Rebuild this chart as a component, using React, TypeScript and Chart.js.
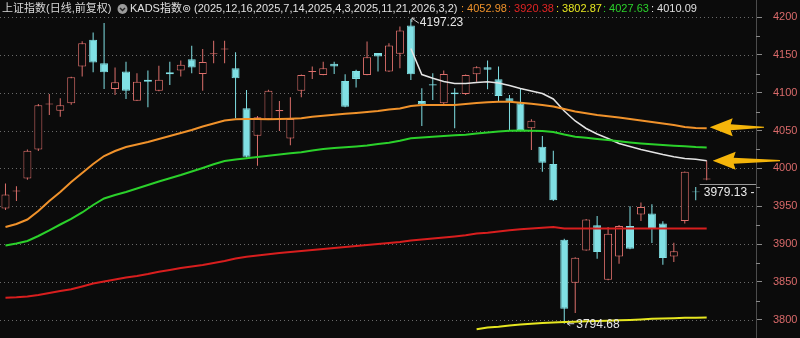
import React, { useEffect, useRef } from 'react';
import { Chart, registerables } from 'chart.js';

Chart.register(...registerables);

// ---------------- data ----------------
const OPEN = [
  3947, 3969.3, 3986.6, 4025, 4084.3, 4076.2, 4086, 4134.5, 4170, 4139,
  4105, 4128, 4089.5, 4117, 4102.7, 4127, 4129.2, 4144.3, 4124.8, 4150.8,
  4157, 4132.4, 4079.4, 4043.1, 4064.8, 4075.6, 4039.6, 4102.7, 4127.2, 4123.5,
  4138.1, 4115.6, 4128.8, 4123.5, 4152.3, 4127.9, 4151.4, 4188.9, 4089, 4111,
  4086, 4100.1, 4098.3, 4124.5, 4133.7, 4117.8, 4092.6, 4086, 4052.9, 4028.5,
  4005.6, 3905.8, 3848.8, 3891.6, 3924.7, 3852.7, 3883.6, 3923.8, 3938.9, 3940.2,
  3927, 3883.6, 3930.4, 3969.5, 3985.2,
];
const HIGH = [
  3980, 3976.4, 4025, 4085, 4098.3, 4092.6, 4121, 4168, 4179.6, 4192,
  4133.2, 4141, 4125.8, 4129.2, 4135.5, 4141, 4142.5, 4162, 4157.6, 4168.6,
  4168.6, 4153.6, 4103.6, 4069.2, 4104, 4089, 4094, 4124, 4134.5, 4141,
  4141, 4124.5, 4130.2, 4167.7, 4152.5, 4165.5, 4187.5, 4197.23, 4105.9, 4125.8,
  4129.2, 4106, 4124, 4135, 4142.5, 4134.5, 4097, 4105, 4064.8, 4042.7,
  4023.2, 3907, 3882.5, 3933, 3937, 3922.5, 3925, 3949.9, 3954.8, 3952.5,
  3930, 3901.8, 3996, 3975.5, 4010.5,
];
const LOW = [
  3945, 3957, 3985, 4023, 4070.5, 4068.3, 4084, 4121.3, 4127, 4105,
  4097, 4091.7, 4089, 4080.7, 4102, 4110.3, 4121.3, 4125.8, 4102.7, 4139,
  4139, 4066.1, 4014.4, 4003.3, 4064, 4049.3, 4030.7, 4094, 4118.2, 4123,
  4124.8, 4080.7, 4106.7, 4123, 4127.9, 4127.5, 4132.4, 4116.9, 4055.9, 4090.4,
  4085, 4052.9, 4097, 4114.6, 4104.6, 4088.1, 4050.6, 4050, 4024.1, 3995.4,
  3957, 3794.68, 3809, 3891, 3880.6, 3852, 3873.9, 3893, 3930.4, 3901.3,
  3872.6, 3876.1, 3927, 3957.8, 3984.4,
];
const CLOSE = [
  3965.4, 3970.7, 4023.2, 4083.4, 4085.7, 4083.4, 4120.5, 4165.5, 4139.8, 4127,
  4113.8, 4102.7, 4114.6, 4114.5, 4117, 4124.5, 4136.8, 4133.2, 4140.4, 4152.2,
  4158.4, 4119.2, 4015.2, 4067.5, 4102.7, 4077, 4065.2, 4123.5, 4128.6, 4132.4,
  4134.5, 4081.5, 4118.2, 4147, 4147.8, 4162.4, 4182.2, 4124.5, 4084.7, 4109.5,
  4124.8, 4098, 4123.5, 4133.7, 4130.2, 4095.7, 4088.1, 4050.6, 4063, 4007.3,
  3957.9, 3814.3, 3881.9, 3932.3, 3889.3, 3913.7, 3923.8, 3893.8, 3949, 3921.1,
  3881.4, 3890.3, 3995.4, 3968.5, 3986.5,
];

const LINE_ORANGE = [
  3922.5, 3926.5, 3932.4, 3943.7, 3956.9, 3968.8, 3982, 3993.9, 4005.8, 4016.3,
  4022.9, 4028.2, 4031.5, 4034.8, 4038.8, 4042.8, 4046.7, 4050.7, 4055.3, 4059.3,
  4063.2, 4064.8, 4065.2, 4065.2, 4064.8, 4065.2, 4065.6, 4066.1, 4068.1, 4069.5,
  4070.8, 4072.1, 4073.2, 4074.5, 4075.8, 4077.8, 4079.1, 4082.4, 4083.7, 4083.7,
  4083.7, 4083.7, 4085, 4086.4, 4087.3, 4088.1, 4088.1, 4086.8, 4085.4, 4083.7,
  4081.7, 4078.4, 4075.1, 4072.8, 4070.5, 4068.8, 4067.2, 4065.2, 4063.2, 4061.3,
  4059.3, 4057.3, 4054.7, 4053.3, 4052.98,
];
const LINE_RED = [
  3829.1, 3829.6, 3830.7, 3832.7, 3835.3, 3837.9, 3840.2, 3843.9, 3847.9, 3850.5,
  3853.1, 3855.8, 3857.8, 3860.4, 3863.4, 3865.7, 3868.3, 3870.3, 3872.3, 3874.9,
  3877.6, 3880.9, 3883.3, 3884.9, 3886.4, 3888.2, 3889.5, 3890.8, 3892.1, 3893.4,
  3894.8, 3896.1, 3897.4, 3898.7, 3900, 3901.4, 3902.7, 3904.7, 3906, 3907.3,
  3908.6, 3910, 3911.5, 3913.9, 3915, 3916.6, 3918.2, 3919.5, 3920.5, 3921.6,
  3922.5, 3920.6, 3920.6, 3920.6, 3920.6, 3920.6, 3920.6, 3920.5, 3920.5, 3920.5,
  3920.4, 3920.4, 3920.4, 3920.4, 3920.38,
];
const LINE_YELLOW = [
  null, null, null, null, null, null, null, null, null, null,
  null, null, null, null, null, null, null, null, null, null,
  null, null, null, null, null, null, null, null, null, null,
  null, null, null, null, null, null, null, null, null, null,
  null, null, null, 3787.3, 3789.7, 3790.8, 3792.4, 3793.7, 3794.7, 3795.7,
  3796.3, 3797, 3797.4, 3797.9, 3798.3, 3798.7, 3799.2, 3799.6, 3800.3, 3801.1,
  3801.5, 3802, 3802.4, 3802.7, 3802.87,
];
const LINE_GREEN = [
  3898.1, 3900.7, 3904, 3910.6, 3917.9, 3925.8, 3933.1, 3941.7, 3951.6, 3960.2,
  3964.8, 3968.8, 3973.4, 3978, 3982.6, 3986.9, 3991.2, 3995.9, 4000.5, 4005.4,
  4009.7, 4011.7, 4013.3, 4015, 4016.7, 4018.3, 4019.9, 4021.2, 4023.6, 4025.6,
  4026.9, 4027.8, 4028.9, 4030.2, 4032.2, 4033.9, 4036.5, 4039.7, 4040.8, 4041.8,
  4042.8, 4043.7, 4044.5, 4046.1, 4047.4, 4048.7, 4049.8, 4050, 4049.8, 4049.4,
  4048, 4044.7, 4041.8, 4040.4, 4038.8, 4037.5, 4035.8, 4034.2, 4032.9, 4031.8,
  4030.9, 4029.9, 4029.1, 4028.2, 4027.63,
];
const LINE_WHITE = [
  null, null, null, null, null, null, null, null, null, null,
  null, null, null, null, null, null, null, null, null, null,
  null, null, null, null, null, null, null, null, null, null,
  null, null, null, null, null, null, null, 4158.4, 4124, 4119,
  4114.8, 4112.1, 4112.1, 4113.5, 4114.5, 4112.8, 4109.5, 4105.5, 4102.2, 4098.9,
  4091.7, 4075.8, 4062.6, 4052.7, 4045.4, 4039.5, 4032.9, 4028.9, 4024.9, 4021.6,
  4018.3, 4015.4, 4013, 4012, 4010.09,
];

const SLOT_COUNT = 69;
const CATEGORIES = Array.from({ length: SLOT_COUNT }, (_, i) => `K${i + 1}`);
const Y_TICKS = [3800, 3850, 3900, 3950, 4000, 4050, 4100, 4150, 4200];
const Y_MINOR_TICKS = [3825, 3875, 3925, 3975, 4025, 4075, 4125, 4175];
const Y_MIN = 3775.8;
const Y_MAX = 4222.5;

const TITLE = '上证指数(日线,前复权)';
const INDICATOR = 'KADS指数⊚';
const INDICATOR_PARAMS = '(2025,12,16,2025,7,14,2025,4,3,2025,11,21,2026,3,2)';
const PRICE_TAG = 3979.13;
const PRICE_TAG_TEXT = '3979.13 - 3968.50';

// ---------------- styles ----------------
const BG = '#0b0b0b';
const UP = '#dc6f6b';
const DOWN = '#80e0e4';
const C_ORANGE = '#f0922b';
const C_RED = '#d81e1e';
const C_YELLOW = '#e6e620';
const C_GREEN = '#2bd12b';
const C_WHITE = '#e4e4e4';
const C_ARROW = '#f5b50a';
const LATIN = '"Liberation Sans", Arial, "Noto Sans CJK SC", "DejaVu Sans", sans-serif';

function drawArrow(ctx: CanvasRenderingContext2D, tipX: number, y: number, tailX: number) {
  ctx.beginPath();
  ctx.moveTo(tipX, y);
  ctx.lineTo(tipX + 23, y - 9);
  ctx.lineTo(tipX + 21, y - 3);
  ctx.lineTo(tailX, y - 0.6);
  ctx.lineTo(tailX, y + 0.6);
  ctx.lineTo(tipX + 21, y + 3);
  ctx.lineTo(tipX + 23, y + 9);
  ctx.closePath();
  ctx.fillStyle = C_ARROW;
  ctx.fill();
}

const overlayPlugin = {
  id: 'overlay',
  beforeDatasetsDraw(chart: any) {
    const { ctx, chartArea: ca } = chart;
    const ys = chart.scales.y;
    ctx.save();
    ctx.strokeStyle = '#6a6a6a';
    ctx.lineWidth = 1;
    ctx.setLineDash([1, 3]);
    Y_TICKS.forEach((v) => {
      const y = Math.round(ys.getPixelForValue(v)) + 0.5;
      ctx.beginPath();
      ctx.moveTo(ca.left, y);
      ctx.lineTo(ca.right, y);
      ctx.stroke();
    });
    ctx.restore();
  },
  afterDatasetsDraw(chart: any) {
    const { ctx, chartArea: ca } = chart;
    const xs = chart.scales.x;
    const ys = chart.scales.y;
    ctx.save();
    ctx.beginPath();
    ctx.rect(ca.left, ca.top, ca.right - ca.left, ca.bottom - ca.top);
    ctx.clip();

    // high marker
    const hi = 37;
    const hx = xs.getPixelForValue(hi);
    const hy = ys.getPixelForValue(HIGH[hi]);
    ctx.strokeStyle = '#d0d0d0';
    ctx.lineWidth = 1;
    ctx.beginPath();
    ctx.moveTo(hx + 1, hy + 3);
    ctx.lineTo(hx + 1, hy - 1);
    ctx.lineTo(hx + 4, hy - 1);
    ctx.moveTo(hx + 1, hy - 1);
    ctx.lineTo(hx + 5, hy + 2);
    ctx.lineTo(hx + 8, hy + 4);
    ctx.stroke();
    ctx.fillStyle = '#e6e6e6';
    ctx.font = `12px ${LATIN}`;
    ctx.textBaseline = 'middle';
    ctx.textAlign = 'left';
    ctx.fillText(HIGH[hi].toFixed(2), hx + 9, hy + 4);

    // low marker
    const lo = 51;
    const lx = xs.getPixelForValue(lo);
    const ly = ys.getPixelForValue(LOW[lo]);
    ctx.beginPath();
    ctx.moveTo(lx + 6, ly - 2);
    ctx.lineTo(lx + 3, ly);
    ctx.lineTo(lx + 6, ly + 2);
    ctx.moveTo(lx + 3, ly);
    ctx.lineTo(lx + 10, ly);
    ctx.stroke();
    ctx.font = `12px ${LATIN}`;
    ctx.fillText(LOW[lo].toFixed(2), lx + 12, ly + 1);

    // price tag
    const px = xs.getPixelForValue(63);
    const py = Math.round(ys.getPixelForValue(PRICE_TAG)) + 0.5;
    ctx.strokeStyle = '#9a9a9a';
    ctx.beginPath();
    ctx.moveTo(px + 4, py);
    ctx.lineTo(ca.right, py);
    ctx.stroke();
    ctx.fillStyle = '#eaeaea';
    ctx.font = `12px ${LATIN}`;
    ctx.fillText(PRICE_TAG_TEXT, px + 8, py + 8.5);
    ctx.restore();
  },
  afterDraw(chart: any) {
    const { ctx, chartArea: ca } = chart;
    const xs = chart.scales.x;
    const ys = chart.scales.y;
    ctx.save();
    // minor ticks
    ctx.strokeStyle = '#8a8a8a';
    ctx.lineWidth = 1;
    Y_MINOR_TICKS.forEach((v) => {
      const y = Math.round(ys.getPixelForValue(v)) + 0.5;
      ctx.beginPath();
      ctx.moveTo(ca.right, y);
      ctx.lineTo(ca.right + 4, y);
      ctx.stroke();
    });

    // arrows
    const last = OPEN.length - 1;
    const lxp = xs.getPixelForValue(last);
    drawArrow(ctx, lxp + 3, ys.getPixelForValue(LINE_ORANGE[last]) - 1, ca.right + 8);
    drawArrow(ctx, lxp + 6, ys.getPixelForValue(LINE_WHITE[last] as number), ca.right + 24);

    // legend
    ctx.textBaseline = 'middle';
    ctx.textAlign = 'left';
    ctx.font = `11px ${LATIN}`;
    const ly = 9;
    ctx.fillStyle = '#d8d8d8';
    ctx.fillText(TITLE, 2, ly, 110);
    // icon
    ctx.beginPath();
    ctx.arc(122.5, ly, 5, 0, Math.PI * 2);
    ctx.fillStyle = '#9c9c9c';
    ctx.fill();
    ctx.strokeStyle = '#262626';
    ctx.lineWidth = 1.4;
    ctx.beginPath();
    ctx.moveTo(120, ly - 1);
    ctx.lineTo(122.5, ly + 1.6);
    ctx.lineTo(125, ly - 1);
    ctx.stroke();
    ctx.fillStyle = '#e0e0e0';
    ctx.fillText(INDICATOR, 130, ly, 63);
    ctx.fillText(INDICATOR_PARAMS, 194, ly, 265);
    const vals: [number, string, number][] = [
      [LINE_ORANGE[last] as number, C_ORANGE, 461],
      [LINE_RED[last] as number, '#e02424', 508],
      [LINE_YELLOW[last] as number, C_YELLOW, 556],
      [LINE_GREEN[last] as number, C_GREEN, 603],
      [LINE_WHITE[last] as number, '#e0e0e0', 651],
    ];
    vals.forEach(([v, c, x]) => {
      ctx.fillStyle = c;
      ctx.fillText(`: ${v.toFixed(2)}`, x, ly);
    });
    ctx.restore();
  },
};

export default function App() {
  const ref = useRef<HTMLCanvasElement | null>(null);
  useEffect(() => {
    if (!ref.current) return;
    const up = OPEN.map((o, i) => CLOSE[i] >= o);
    const bodies = OPEN.map((o, i) => [o, CLOSE[i]]);
    const wicks = LOW.map((l, i) => [l, HIGH[i]]);
    const line = (data: (number | null)[], color: string, width: number) => ({
      type: 'line' as const,
      data,
      borderColor: color,
      borderWidth: width,
      pointRadius: 0,
      tension: 0,
      fill: false,
      spanGaps: false,
      order: 0,
    });
    const chart = new Chart(ref.current, {
      type: 'bar',
      data: {
        labels: CATEGORIES,
        datasets: [
          line(LINE_RED, C_RED, 2),
          line(LINE_YELLOW, C_YELLOW, 2),
          line(LINE_GREEN, C_GREEN, 2),
          line(LINE_ORANGE, C_ORANGE, 2),
          line(LINE_WHITE, C_WHITE, 1.5),
          {
            type: 'bar',
            data: bodies as any,
            backgroundColor: up.map((u) => (u ? BG : DOWN)),
            borderColor: up.map((u) => (u ? UP : DOWN)),
            borderWidth: 1,
            borderSkipped: false,
            barThickness: 8,
            grouped: false,
            inflateAmount: 0,
            order: 1,
          } as any,
          {
            type: 'bar',
            data: wicks as any,
            backgroundColor: up.map((u) => (u ? UP : DOWN)),
            borderWidth: 0,
            barThickness: 1,
            grouped: false,
            inflateAmount: 0,
            order: 2,
          } as any,
        ],
      },
      options: {
        animation: false,
        responsive: false,
        devicePixelRatio: 1,
        layout: { padding: { left: 0, right: 3, top: 0, bottom: 0 } },
        plugins: { legend: { display: false }, tooltip: { enabled: false } },
        scales: {
          x: { type: 'category', display: false, offset: true, grid: { display: false } },
          y: {
            type: 'linear',
            position: 'right',
            min: Y_MIN,
            max: Y_MAX,
            afterBuildTicks: (s: any) => {
              s.ticks = Y_TICKS.map((v) => ({ value: v }));
            },
            afterFit: (s: any) => {
              s.width = 41;
              s.paddingTop = 0;
              s.paddingBottom = 0;
            },
            ticks: {
              color: '#d96a6a',
              font: { size: 11, family: LATIN },
              crossAlign: 'near',
              padding: 11,
              callback: (v: any) => String(v),
            },
            grid: {
              drawOnChartArea: false,
              color: '#505050',
              lineWidth: 1,
              tickLength: 6,
              tickColor: '#8a8a8a',
              tickBorderDash: [],
            },
            border: { display: true, color: '#4c4c4c' },
          } as any,
        },
      },
      plugins: [overlayPlugin],
    });
    return () => chart.destroy();
  }, []);
  return (
    <div style={{ position: 'fixed', left: 0, top: 0, width: 800, height: 338, background: BG }}>
      <canvas ref={ref} width={800} height={338} style={{ display: 'block', width: 800, height: 338 }} />
    </div>
  );
}
